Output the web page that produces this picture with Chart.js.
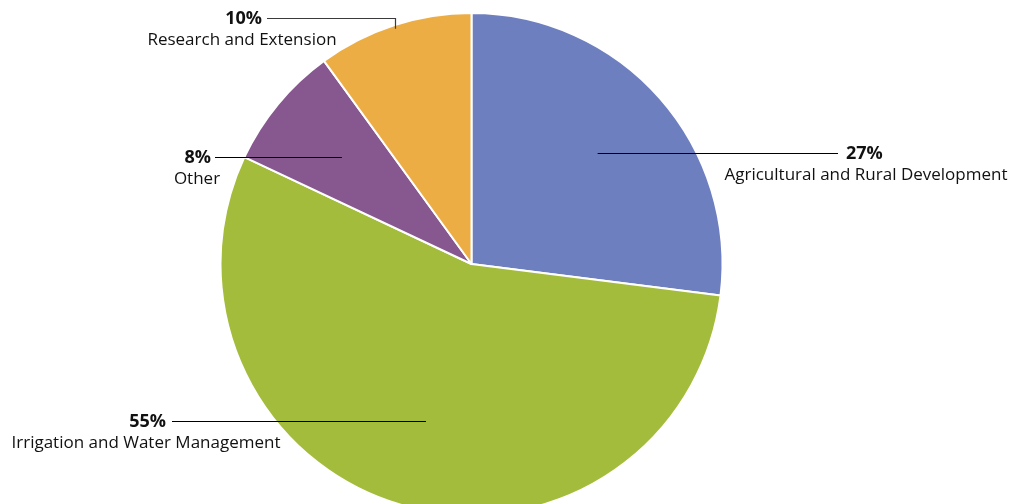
<!DOCTYPE html>
<html>
<head>
<meta charset="utf-8">
<script src="https://cdn.jsdelivr.net/npm/chart.js@4.4.1/dist/chart.umd.min.js"></script>
<style>
  html, body { margin: 0; padding: 0; background: #fff; overflow: hidden; }
  #budgetPie { display: block; }
</style>
</head>
<body>
<canvas id="budgetPie" width="1013" height="516"></canvas>
<script>
// spending shares, clockwise from 12 o'clock
const categories = [
    "Agricultural and Rural Development",
    "Irrigation and Water Management",
    "Other",
    "Research and Extension",
];
const shares = [27, 55, 8, 10];
const sliceColors = ["#6E7FBF", "#A4BC3C", "#87578F", "#EDAD45"];

// where each callout goes: anchor = fraction of radius along the slice middle,
// then a horizontal rule out to lineEnd; text centred on textX
const callouts = [
    { frac: 0.67, lineEnd: 838, textX: 866, valueAlign: "left", valueX: 846 },
    { frac: 0.65, lineEnd: 172, textX: 146, valueAlign: "right", valueX: 166 },
    { frac: 0.67, lineEnd: 215, textX: 197, valueAlign: "right", valueX: 211 },
    { frac: 0.985, lineEnd: 267, textX: 242, valueAlign: "right", valueX: 262, elbowY: 18, color: "#3a3a3a" },
];

const calloutPlugin = {
    id: "callouts",
    afterDatasetsDraw(chart) {
        const c = chart.ctx;
        const arcs = chart.getDatasetMeta(0).data;
        c.save();
        arcs.forEach((arc, i) => {
            const co = callouts[i];
            const p = arc.getProps(["x", "y", "startAngle", "endAngle", "outerRadius"], true);
            const mid = (p.startAngle + p.endAngle) / 2;
            const ax = p.x + Math.cos(mid) * p.outerRadius * co.frac;
            const ay = p.y + Math.sin(mid) * p.outerRadius * co.frac;
            const lineY = co.elbowY !== undefined ? co.elbowY : Math.round(ay);

            c.strokeStyle = co.color || "#000";
            c.lineWidth = 1.2;
            c.beginPath();
            if (co.elbowY !== undefined) {
                c.moveTo(Math.round(ax) + 0.5, ay);
                c.lineTo(Math.round(ax) + 0.5, lineY + 0.5);
                c.lineTo(co.lineEnd, lineY + 0.5);
            } else {
                c.moveTo(ax, lineY + 0.5);
                c.lineTo(co.lineEnd, lineY + 0.5);
            }
            c.stroke();

            c.fillStyle = "#111";
            c.textBaseline = "middle";
            c.font = "bold 18px 'Open Sans'";
            c.textAlign = co.valueAlign;
            c.fillText(shares[i] + "%", co.valueX, lineY + 1);

            c.font = "17px 'Open Sans'";
            c.textAlign = "center";
            c.fillText(categories[i], co.textX, lineY + 22);
        });
        c.restore();
    }
};

const ctx = document.getElementById("budgetPie").getContext("2d");

const budgetPie = new Chart(ctx, {
    type: "pie",
    data: {
        labels: categories,
        datasets: [
            {
                data: shares,
                backgroundColor: sliceColors,
                borderColor: "#ffffff",
                borderWidth: 2,
            },
        ],
    },
    options: {
        responsive: false,
        animation: false,
        devicePixelRatio: 1,
        layout: {
            padding: { top: 12, bottom: 0, left: 0, right: 70 },
        },
        plugins: {
            legend: { display: false },
            tooltip: { enabled: false },
        },
    },
    plugins: [calloutPlugin],
});
</script>
</body>
</html>
